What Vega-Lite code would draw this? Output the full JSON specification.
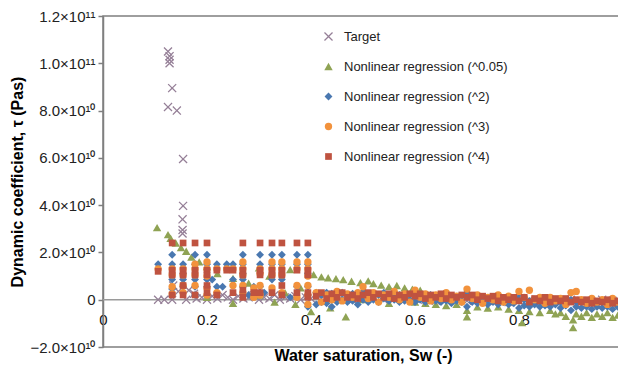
{
"$schema":"https://vega.github.io/schema/vega-lite/v6.json",
"width":520,"height":331,
"autosize":{"type":"none"},
"padding":{"left":103,"top":16,"right":0,"bottom":24},
"background":"white",
"config":{"view":{"stroke":"#7f7f7f","strokeWidth":1.5},"font":"Liberation Sans"},
"data":{"values":[
{"s":"T","x":0.106,"y":0},{"s":"T","x":0.118,"y":0},{"s":"T","x":0.133,"y":0},{"s":"T","x":0.16,"y":0},{"s":"T","x":0.18,"y":0.05},{"s":"T","x":0.19,"y":0.1},{"s":"T","x":0.2,"y":0},{"s":"T","x":0.21,"y":0.15},{"s":"T","x":0.22,"y":0.05},{"s":"T","x":0.23,"y":0.2},{"s":"T","x":0.24,"y":0.1},{"s":"T","x":0.25,"y":0},{"s":"T","x":0.26,"y":0.15},{"s":"T","x":0.27,"y":0.05},{"s":"T","x":0.28,"y":0.1},{"s":"T","x":0.29,"y":0.2},{"s":"T","x":0.3,"y":0},{"s":"T","x":0.31,"y":0.1},{"s":"T","x":0.32,"y":0.05},{"s":"T","x":0.33,"y":0.2},{"s":"T","x":0.34,"y":0},{"s":"T","x":0.35,"y":0.1},{"s":"T","x":0.36,"y":0.05},{"s":"T","x":0.37,"y":0.15},{"s":"T","x":0.38,"y":0},{"s":"T","x":0.39,"y":0.1},{"s":"T","x":0.4,"y":0.05},
{"s":"T","x":0.135,"y":0.6},{"s":"T","x":0.145,"y":0.35},{"s":"T","x":0.165,"y":0.4},{"s":"T","x":0.175,"y":0.25},
{"s":"T","x":0.125,"y":10.5},{"s":"T","x":0.128,"y":10.3},{"s":"T","x":0.128,"y":10.15},{"s":"T","x":0.128,"y":10.0},{"s":"T","x":0.133,"y":8.95},{"s":"T","x":0.125,"y":8.15},{"s":"T","x":0.142,"y":8.0},{"s":"T","x":0.154,"y":5.95},{"s":"T","x":0.154,"y":3.97},{"s":"T","x":0.153,"y":3.4},{"s":"T","x":0.153,"y":2.95},{"s":"T","x":0.153,"y":2.8},
{"s":"T","x":0.42,"y":0.05},{"s":"T","x":0.44,"y":0},{"s":"T","x":0.46,"y":0.1},{"s":"T","x":0.48,"y":0},{"s":"T","x":0.5,"y":0.05},{"s":"T","x":0.52,"y":0.1},{"s":"T","x":0.54,"y":0},{"s":"T","x":0.56,"y":0.05},{"s":"T","x":0.58,"y":0},{"s":"T","x":0.6,"y":0.05},{"s":"T","x":0.62,"y":0},{"s":"T","x":0.64,"y":-0.05},{"s":"T","x":0.66,"y":0},{"s":"T","x":0.68,"y":0.05},{"s":"T","x":0.7,"y":-0.05},{"s":"T","x":0.72,"y":0},{"s":"T","x":0.74,"y":-0.05},{"s":"T","x":0.76,"y":0},{"s":"T","x":0.78,"y":-0.1},{"s":"T","x":0.8,"y":-0.05},{"s":"T","x":0.82,"y":0},{"s":"T","x":0.84,"y":-0.1},{"s":"T","x":0.86,"y":-0.05},{"s":"T","x":0.88,"y":-0.1},{"s":"T","x":0.9,"y":0},{"s":"T","x":0.92,"y":-0.05},{"s":"T","x":0.94,"y":-0.1},{"s":"T","x":0.96,"y":0},{"s":"T","x":0.98,"y":-0.05},
{"s":"A","x":0.104,"y":3.05},{"s":"A","x":0.125,"y":2.75},{"s":"A","x":0.13,"y":2.6},{"s":"A","x":0.14,"y":2.4},{"s":"A","x":0.15,"y":2.2},{"s":"A","x":0.16,"y":2.05},{"s":"A","x":0.17,"y":1.8},{"s":"A","x":0.185,"y":1.6},{"s":"A","x":0.2,"y":1.4},{"s":"A","x":0.22,"y":1.1},{"s":"A","x":0.25,"y":0.9},{"s":"A","x":0.28,"y":0.7},{"s":"A","x":0.3,"y":1.35},{"s":"A","x":0.32,"y":1.0},{"s":"A","x":0.36,"y":1.27},{"s":"A","x":0.405,"y":1.06},{"s":"A","x":0.2,"y":0.1},{"s":"A","x":0.25,"y":-0.15},{"s":"A","x":0.3,"y":0.2},{"s":"A","x":0.33,"y":-0.1},{"s":"A","x":0.38,"y":0.5},{"s":"A","x":0.37,"y":-0.2},{"s":"A","x":0.4,"y":-0.5},{"s":"A","x":0.35,"y":0.3},
{"s":"A","x":0.42,"y":0.97},{"s":"A","x":0.433,"y":0.93},{"s":"A","x":0.448,"y":0.89},{"s":"A","x":0.462,"y":0.85},{"s":"A","x":0.478,"y":0.78},{"s":"A","x":0.495,"y":0.72},{"s":"A","x":0.51,"y":0.8},{"s":"A","x":0.52,"y":0.68},{"s":"A","x":0.535,"y":0.62},{"s":"A","x":0.55,"y":0.55},{"s":"A","x":0.565,"y":0.6},{"s":"A","x":0.58,"y":0.5},{"s":"A","x":0.595,"y":0.45},{"s":"A","x":0.61,"y":0.4},
{"s":"A","x":0.437,"y":-0.34},{"s":"A","x":0.467,"y":-0.72},{"s":"A","x":0.5,"y":0.0},{"s":"A","x":0.55,"y":-0.15},{"s":"A","x":0.6,"y":-0.1},
{"s":"A","x":0.62,"y":-0.15},{"s":"A","x":0.64,"y":-0.2},{"s":"A","x":0.66,"y":-0.25},{"s":"A","x":0.68,"y":-0.2},{"s":"A","x":0.7,"y":-0.72},{"s":"A","x":0.7,"y":-0.45},{"s":"A","x":0.72,"y":-0.3},{"s":"A","x":0.74,"y":-0.35},{"s":"A","x":0.76,"y":-0.3},{"s":"A","x":0.78,"y":-0.4},{"s":"A","x":0.8,"y":-0.45},{"s":"A","x":0.806,"y":-0.97},{"s":"A","x":0.82,"y":-0.5},{"s":"A","x":0.84,"y":-0.55},{"s":"A","x":0.86,"y":-0.45},{"s":"A","x":0.87,"y":-0.6},{"s":"A","x":0.88,"y":-0.55},{"s":"A","x":0.89,"y":-0.7},{"s":"A","x":0.904,"y":-1.18},{"s":"A","x":0.904,"y":-0.85},{"s":"A","x":0.91,"y":-0.6},{"s":"A","x":0.92,"y":-0.7},{"s":"A","x":0.93,"y":-0.55},{"s":"A","x":0.94,"y":-0.75},{"s":"A","x":0.95,"y":-0.6},{"s":"A","x":0.96,"y":-0.7},{"s":"A","x":0.97,"y":-0.55},{"s":"A","x":0.98,"y":-0.75},{"s":"A","x":0.99,"y":-0.65},
{"s":"B","x":0.106,"y":1.5},
{"s":"B","x":0.133,"y":1.9},{"s":"B","x":0.133,"y":1.5},{"s":"B","x":0.133,"y":0.85},{"s":"B","x":0.133,"y":0.45},
{"s":"B","x":0.154,"y":1.5},{"s":"B","x":0.154,"y":1.1},{"s":"B","x":0.154,"y":0.85},{"s":"B","x":0.154,"y":0.55},
{"s":"B","x":0.177,"y":1.9},{"s":"B","x":0.177,"y":1.5},{"s":"B","x":0.177,"y":0.85},{"s":"B","x":0.177,"y":0.55},{"s":"B","x":0.177,"y":0.2},
{"s":"B","x":0.2,"y":1.9},{"s":"B","x":0.2,"y":1.5},{"s":"B","x":0.2,"y":0.85},{"s":"B","x":0.2,"y":0.55},
{"s":"B","x":0.219,"y":1.5},{"s":"B","x":0.219,"y":0.55},{"s":"B","x":0.238,"y":1.5},{"s":"B","x":0.25,"y":1.5},{"s":"B","x":0.25,"y":0.85},
{"s":"B","x":0.269,"y":1.9},{"s":"B","x":0.269,"y":1.5},{"s":"B","x":0.269,"y":1.1},{"s":"B","x":0.269,"y":0.85},{"s":"B","x":0.269,"y":0.55},
{"s":"B","x":0.29,"y":0.55},{"s":"B","x":0.29,"y":0.2},
{"s":"B","x":0.302,"y":1.9},{"s":"B","x":0.302,"y":1.5},{"s":"B","x":0.302,"y":0.55},
{"s":"B","x":0.325,"y":1.9},{"s":"B","x":0.325,"y":1.5},{"s":"B","x":0.325,"y":0.85},
{"s":"B","x":0.344,"y":1.9},{"s":"B","x":0.344,"y":1.5},{"s":"B","x":0.344,"y":0.85},{"s":"B","x":0.344,"y":0.2},
{"s":"B","x":0.373,"y":1.9},{"s":"B","x":0.373,"y":1.5},{"s":"B","x":0.373,"y":0.55},
{"s":"B","x":0.394,"y":1.9},{"s":"B","x":0.394,"y":1.5},{"s":"B","x":0.394,"y":1.1},{"s":"B","x":0.394,"y":0.55},{"s":"B","x":0.394,"y":0.2},{"s":"B","x":0.394,"y":-0.3},
{"s":"B","x":0.21,"y":0.85},{"s":"B","x":0.23,"y":0.55},{"s":"B","x":0.28,"y":0.2},{"s":"B","x":0.31,"y":0.3},{"s":"B","x":0.36,"y":0.1},
{"s":"B","x":0.41,"y":0.3},{"s":"B","x":0.41,"y":-0.2},{"s":"B","x":0.42,"y":0.2},{"s":"B","x":0.42,"y":-0.1},{"s":"B","x":0.43,"y":0.3},{"s":"B","x":0.43,"y":-0.15},{"s":"B","x":0.44,"y":0.25},{"s":"B","x":0.44,"y":-0.3},{"s":"B","x":0.45,"y":0.2},{"s":"B","x":0.45,"y":-0.1},{"s":"B","x":0.46,"y":0.3},{"s":"B","x":0.46,"y":0.0},{"s":"B","x":0.47,"y":0.2},{"s":"B","x":0.47,"y":-0.1},{"s":"B","x":0.48,"y":0.25},{"s":"B","x":0.48,"y":-0.05},{"s":"B","x":0.49,"y":0.2},{"s":"B","x":0.49,"y":-0.2},{"s":"B","x":0.5,"y":0.35},{"s":"B","x":0.5,"y":0.0},
{"s":"B","x":0.51,"y":0.2},{"s":"B","x":0.51,"y":-0.1},{"s":"B","x":0.52,"y":0.25},{"s":"B","x":0.52,"y":0.0},{"s":"B","x":0.53,"y":0.2},{"s":"B","x":0.53,"y":-0.1},{"s":"B","x":0.54,"y":0.3},{"s":"B","x":0.54,"y":0.05},{"s":"B","x":0.55,"y":0.2},{"s":"B","x":0.55,"y":-0.05},{"s":"B","x":0.56,"y":0.25},{"s":"B","x":0.56,"y":0.0},{"s":"B","x":0.57,"y":0.2},{"s":"B","x":0.57,"y":-0.1},{"s":"B","x":0.58,"y":0.15},{"s":"B","x":0.58,"y":-0.05},{"s":"B","x":0.59,"y":0.2},{"s":"B","x":0.59,"y":0.0},{"s":"B","x":0.6,"y":0.25},{"s":"B","x":0.6,"y":-0.1},
{"s":"B","x":0.61,"y":0.2},{"s":"B","x":0.61,"y":0.0},{"s":"B","x":0.62,"y":0.15},{"s":"B","x":0.62,"y":-0.1},{"s":"B","x":0.63,"y":0.2},{"s":"B","x":0.63,"y":0.0},{"s":"B","x":0.64,"y":0.15},{"s":"B","x":0.64,"y":-0.05},{"s":"B","x":0.65,"y":0.2},{"s":"B","x":0.65,"y":-0.1},{"s":"B","x":0.66,"y":0.1},{"s":"B","x":0.66,"y":-0.05},{"s":"B","x":0.67,"y":0.15},{"s":"B","x":0.67,"y":-0.15},{"s":"B","x":0.68,"y":0.1},{"s":"B","x":0.68,"y":-0.05},{"s":"B","x":0.69,"y":0.15},{"s":"B","x":0.69,"y":-0.1},{"s":"B","x":0.7,"y":0.3},{"s":"B","x":0.7,"y":-0.3},
{"s":"B","x":0.71,"y":0.1},{"s":"B","x":0.71,"y":-0.1},{"s":"B","x":0.72,"y":0.05},{"s":"B","x":0.72,"y":-0.15},{"s":"B","x":0.73,"y":0.1},{"s":"B","x":0.73,"y":-0.1},{"s":"B","x":0.74,"y":0.05},{"s":"B","x":0.74,"y":-0.2},{"s":"B","x":0.75,"y":0.1},{"s":"B","x":0.75,"y":-0.1},{"s":"B","x":0.76,"y":0.0},{"s":"B","x":0.76,"y":-0.2},{"s":"B","x":0.77,"y":0.05},{"s":"B","x":0.77,"y":-0.1},{"s":"B","x":0.78,"y":0.0},{"s":"B","x":0.78,"y":-0.2},{"s":"B","x":0.79,"y":0.05},{"s":"B","x":0.79,"y":-0.15},{"s":"B","x":0.8,"y":0.1},{"s":"B","x":0.8,"y":-0.35},
{"s":"B","x":0.81,"y":0.0},{"s":"B","x":0.81,"y":-0.25},{"s":"B","x":0.82,"y":-0.05},{"s":"B","x":0.82,"y":-0.3},{"s":"B","x":0.83,"y":0.0},{"s":"B","x":0.83,"y":-0.2},{"s":"B","x":0.84,"y":-0.05},{"s":"B","x":0.84,"y":-0.3},{"s":"B","x":0.85,"y":0.0},{"s":"B","x":0.85,"y":-0.25},{"s":"B","x":0.86,"y":-0.05},{"s":"B","x":0.86,"y":-0.3},{"s":"B","x":0.87,"y":0.0},{"s":"B","x":0.87,"y":-0.2},{"s":"B","x":0.88,"y":-0.1},{"s":"B","x":0.88,"y":-0.35},{"s":"B","x":0.89,"y":-0.05},{"s":"B","x":0.89,"y":-0.25},{"s":"B","x":0.9,"y":0.0},{"s":"B","x":0.9,"y":-0.45},
{"s":"B","x":0.91,"y":-0.1},{"s":"B","x":0.91,"y":-0.3},{"s":"B","x":0.92,"y":-0.05},{"s":"B","x":0.92,"y":-0.35},{"s":"B","x":0.93,"y":-0.1},{"s":"B","x":0.93,"y":-0.3},{"s":"B","x":0.94,"y":-0.05},{"s":"B","x":0.94,"y":-0.4},{"s":"B","x":0.95,"y":-0.1},{"s":"B","x":0.95,"y":-0.3},{"s":"B","x":0.96,"y":-0.05},{"s":"B","x":0.96,"y":-0.35},{"s":"B","x":0.97,"y":-0.1},{"s":"B","x":0.97,"y":-0.3},{"s":"B","x":0.98,"y":-0.05},{"s":"B","x":0.98,"y":-0.4},{"s":"B","x":0.99,"y":-0.1},{"s":"B","x":0.99,"y":-0.3},
{"s":"C","x":0.106,"y":1.3},
{"s":"C","x":0.133,"y":1.3},{"s":"C","x":0.133,"y":1.05},{"s":"C","x":0.133,"y":0.55},{"s":"C","x":0.133,"y":0.25},
{"s":"C","x":0.154,"y":1.3},{"s":"C","x":0.154,"y":1.05},{"s":"C","x":0.154,"y":0.6},{"s":"C","x":0.154,"y":0.3},
{"s":"C","x":0.177,"y":1.5},{"s":"C","x":0.177,"y":1.3},{"s":"C","x":0.177,"y":1.05},{"s":"C","x":0.177,"y":0.6},
{"s":"C","x":0.2,"y":1.6},{"s":"C","x":0.2,"y":1.3},{"s":"C","x":0.2,"y":1.0},{"s":"C","x":0.2,"y":0.5},{"s":"C","x":0.2,"y":0.2},
{"s":"C","x":0.219,"y":1.3},{"s":"C","x":0.219,"y":0.3},{"s":"C","x":0.238,"y":1.3},{"s":"C","x":0.25,"y":1.3},{"s":"C","x":0.25,"y":0.6},
{"s":"C","x":0.269,"y":1.6},{"s":"C","x":0.269,"y":1.3},{"s":"C","x":0.269,"y":1.05},{"s":"C","x":0.269,"y":0.6},{"s":"C","x":0.269,"y":0.3},
{"s":"C","x":0.29,"y":0.5},{"s":"C","x":0.29,"y":0.1},
{"s":"C","x":0.302,"y":1.3},{"s":"C","x":0.302,"y":1.1},{"s":"C","x":0.302,"y":0.6},{"s":"C","x":0.302,"y":0.2},
{"s":"C","x":0.325,"y":1.6},{"s":"C","x":0.325,"y":1.3},{"s":"C","x":0.325,"y":1.05},{"s":"C","x":0.325,"y":0.5},
{"s":"C","x":0.344,"y":1.6},{"s":"C","x":0.344,"y":1.3},{"s":"C","x":0.344,"y":1.05},{"s":"C","x":0.344,"y":0.3},
{"s":"C","x":0.373,"y":1.6},{"s":"C","x":0.373,"y":1.3},{"s":"C","x":0.373,"y":0.6},{"s":"C","x":0.373,"y":0.1},
{"s":"C","x":0.394,"y":1.6},{"s":"C","x":0.394,"y":1.3},{"s":"C","x":0.394,"y":1.0},{"s":"C","x":0.394,"y":0.6},{"s":"C","x":0.394,"y":0.2},{"s":"C","x":0.394,"y":-0.2},
{"s":"C","x":0.41,"y":0.3},{"s":"C","x":0.42,"y":-0.1},{"s":"C","x":0.43,"y":0.2},{"s":"C","x":0.44,"y":0.0},{"s":"C","x":0.45,"y":0.35},{"s":"C","x":0.46,"y":-0.05},{"s":"C","x":0.47,"y":0.25},{"s":"C","x":0.48,"y":0.1},{"s":"C","x":0.49,"y":0.3},{"s":"C","x":0.5,"y":0.55},{"s":"C","x":0.51,"y":0.05},{"s":"C","x":0.52,"y":0.3},{"s":"C","x":0.53,"y":-0.1},{"s":"C","x":0.54,"y":0.2},{"s":"C","x":0.55,"y":0.1},{"s":"C","x":0.56,"y":0.35},{"s":"C","x":0.57,"y":0.0},{"s":"C","x":0.58,"y":0.25},{"s":"C","x":0.59,"y":-0.1},{"s":"C","x":0.6,"y":0.4},
{"s":"C","x":0.61,"y":0.1},{"s":"C","x":0.62,"y":0.25},{"s":"C","x":0.63,"y":-0.05},{"s":"C","x":0.64,"y":0.2},{"s":"C","x":0.65,"y":0.05},{"s":"C","x":0.66,"y":0.3},{"s":"C","x":0.67,"y":0.0},{"s":"C","x":0.68,"y":0.15},{"s":"C","x":0.69,"y":-0.1},{"s":"C","x":0.7,"y":0.45},{"s":"C","x":0.71,"y":0.05},{"s":"C","x":0.72,"y":0.2},{"s":"C","x":0.73,"y":-0.15},{"s":"C","x":0.74,"y":0.1},{"s":"C","x":0.75,"y":0.0},{"s":"C","x":0.76,"y":0.2},{"s":"C","x":0.77,"y":-0.1},{"s":"C","x":0.78,"y":0.15},{"s":"C","x":0.79,"y":-0.05},{"s":"C","x":0.8,"y":0.35},
{"s":"C","x":0.81,"y":0.1},{"s":"C","x":0.82,"y":0.4},{"s":"C","x":0.83,"y":0.0},{"s":"C","x":0.84,"y":0.1},{"s":"C","x":0.85,"y":-0.15},{"s":"C","x":0.86,"y":0.1},{"s":"C","x":0.87,"y":-0.05},{"s":"C","x":0.88,"y":0.05},{"s":"C","x":0.89,"y":-0.2},{"s":"C","x":0.9,"y":0.3},{"s":"C","x":0.91,"y":0.35},{"s":"C","x":0.92,"y":0.0},{"s":"C","x":0.93,"y":-0.15},{"s":"C","x":0.94,"y":0.05},{"s":"C","x":0.95,"y":-0.1},{"s":"C","x":0.96,"y":0.0},{"s":"C","x":0.97,"y":-0.2},{"s":"C","x":0.98,"y":0.05},{"s":"C","x":0.99,"y":-0.1},
{"s":"D","x":0.106,"y":1.2},
{"s":"D","x":0.133,"y":2.4},{"s":"D","x":0.133,"y":1.25},{"s":"D","x":0.133,"y":1.05},{"s":"D","x":0.133,"y":0.2},
{"s":"D","x":0.154,"y":2.4},{"s":"D","x":0.154,"y":1.25},{"s":"D","x":0.154,"y":1.05},{"s":"D","x":0.154,"y":0.6},{"s":"D","x":0.154,"y":0.2},
{"s":"D","x":0.177,"y":2.4},{"s":"D","x":0.177,"y":1.25},{"s":"D","x":0.177,"y":1.05},{"s":"D","x":0.177,"y":0.2},
{"s":"D","x":0.2,"y":2.4},{"s":"D","x":0.2,"y":1.25},{"s":"D","x":0.2,"y":1.05},{"s":"D","x":0.2,"y":0.6},{"s":"D","x":0.2,"y":0.3},
{"s":"D","x":0.219,"y":1.25},{"s":"D","x":0.219,"y":0.2},{"s":"D","x":0.238,"y":1.25},{"s":"D","x":0.25,"y":1.25},{"s":"D","x":0.25,"y":0.3},
{"s":"D","x":0.269,"y":2.4},{"s":"D","x":0.269,"y":1.25},{"s":"D","x":0.269,"y":1.05},{"s":"D","x":0.269,"y":0.4},{"s":"D","x":0.269,"y":0.1},
{"s":"D","x":0.29,"y":0.3},
{"s":"D","x":0.302,"y":2.4},{"s":"D","x":0.302,"y":1.25},{"s":"D","x":0.302,"y":1.05},{"s":"D","x":0.302,"y":0.3},
{"s":"D","x":0.325,"y":2.4},{"s":"D","x":0.325,"y":1.25},{"s":"D","x":0.325,"y":1.05},{"s":"D","x":0.325,"y":0.3},
{"s":"D","x":0.344,"y":2.4},{"s":"D","x":0.344,"y":1.25},{"s":"D","x":0.344,"y":1.05},{"s":"D","x":0.344,"y":0.6},{"s":"D","x":0.344,"y":0.2},
{"s":"D","x":0.373,"y":2.4},{"s":"D","x":0.373,"y":1.25},{"s":"D","x":0.373,"y":0.3},
{"s":"D","x":0.394,"y":2.4},{"s":"D","x":0.394,"y":1.25},{"s":"D","x":0.394,"y":1.05},{"s":"D","x":0.394,"y":0.3},{"s":"D","x":0.394,"y":0.1},
{"s":"D","x":0.41,"y":0.15},{"s":"D","x":0.42,"y":0.3},{"s":"D","x":0.43,"y":0.05},{"s":"D","x":0.44,"y":0.25},{"s":"D","x":0.45,"y":0.1},{"s":"D","x":0.46,"y":0.3},{"s":"D","x":0.47,"y":0.1},{"s":"D","x":0.48,"y":0.2},{"s":"D","x":0.49,"y":0.05},{"s":"D","x":0.5,"y":0.2},{"s":"D","x":0.51,"y":0.3},{"s":"D","x":0.52,"y":0.1},{"s":"D","x":0.53,"y":0.25},{"s":"D","x":0.54,"y":0.1},{"s":"D","x":0.55,"y":0.25},{"s":"D","x":0.56,"y":0.05},{"s":"D","x":0.57,"y":0.2},{"s":"D","x":0.58,"y":0.1},{"s":"D","x":0.59,"y":0.25},{"s":"D","x":0.6,"y":0.15},
{"s":"D","x":0.61,"y":0.25},{"s":"D","x":0.62,"y":0.05},{"s":"D","x":0.63,"y":0.2},{"s":"D","x":0.64,"y":0.1},{"s":"D","x":0.65,"y":0.25},{"s":"D","x":0.66,"y":0.05},{"s":"D","x":0.67,"y":0.2},{"s":"D","x":0.68,"y":0.1},{"s":"D","x":0.69,"y":0.2},{"s":"D","x":0.7,"y":0.1},{"s":"D","x":0.71,"y":0.2},{"s":"D","x":0.72,"y":0.0},{"s":"D","x":0.73,"y":0.15},{"s":"D","x":0.74,"y":0.05},{"s":"D","x":0.75,"y":0.15},{"s":"D","x":0.76,"y":-0.05},{"s":"D","x":0.77,"y":0.1},{"s":"D","x":0.78,"y":0.0},{"s":"D","x":0.79,"y":0.1},{"s":"D","x":0.8,"y":-0.05},
{"s":"D","x":0.81,"y":0.1},{"s":"D","x":0.82,"y":-0.1},{"s":"D","x":0.83,"y":0.05},{"s":"D","x":0.84,"y":-0.05},{"s":"D","x":0.85,"y":0.1},{"s":"D","x":0.86,"y":-0.1},{"s":"D","x":0.87,"y":0.05},{"s":"D","x":0.88,"y":-0.05},{"s":"D","x":0.89,"y":0.05},{"s":"D","x":0.9,"y":-0.1},{"s":"D","x":0.91,"y":0.0},{"s":"D","x":0.92,"y":-0.1},{"s":"D","x":0.93,"y":0.0},{"s":"D","x":0.94,"y":-0.15},{"s":"D","x":0.95,"y":-0.05},{"s":"D","x":0.96,"y":-0.1},{"s":"D","x":0.97,"y":0.0},{"s":"D","x":0.98,"y":-0.15},{"s":"D","x":0.99,"y":-0.05}
]},
"layer":[
{"data":{"values":[{}]},"mark":{"type":"rule","color":"#9a9a9a","strokeWidth":1.5},"encoding":{"y":{"datum":0,"type":"quantitative"}}},
{"mark":{"type":"point","filled":true,"opacity":1,"strokeWidth":0},
"encoding":{
"x":{"field":"x","type":"quantitative","scale":{"domain":[0,1],"nice":false,"zero":false},
 "axis":{"orient":"bottom","offset":-47,"values":[0,0.2,0.4,0.6,0.8],"labelExpr":"datum.value==0?'0':format(datum.value,'.1f')","domain":false,"ticks":false,"grid":false,"labelFontSize":15,"labelColor":"#111","labelPadding":12,"labelFlush":false,"title":"Water saturation, Sw (-)","titleFontSize":16,"titleFontWeight":"bold","titleColor":"#000","titlePadding":20}},
"y":{"field":"y","type":"quantitative","scale":{"domain":[-2,12],"nice":false,"zero":false},
 "axis":{"values":[-2,0,2,4,6,8,10,12],"labelExpr":"datum.value==0?'0':datum.value>=10?format(datum.value/10,'.1f')+'×10¹¹':format(datum.value,'.1f')+'×10¹⁰'","domainColor":"#7f7f7f","domainWidth":1.5,"tickColor":"#7f7f7f","tickSize":5,"tickWidth":1.5,"grid":false,"labelFontSize":15,"labelColor":"#222","labelPadding":3,"title":"Dynamic coefficient, τ (Pas)","titleFontSize":16,"titleFontWeight":"bold","titleColor":"#000","titlePadding":4}},
"color":{"field":"s","type":"nominal","scale":{"domain":["T","A","B","C","D"],"range":["#957f97","#8fa354","#4a78b0","#f2923c","#bf5340"]},
 "legend":{"orient":"none","legendX":219,"legendY":14,"title":null,"labelFontSize":13,"labelColor":"#222","labelLimit":400,"symbolSize":45,"rowPadding":16,"padding":0,"labelOffset":9,
 "labelExpr":"datum.label=='T'?'Target':datum.label=='A'?'Nonlinear regression (^0.05)':datum.label=='B'?'Nonlinear regression (^2)':datum.label=='C'?'Nonlinear regression (^3)':'Nonlinear regression (^4)'"}},
"shape":{"field":"s","type":"nominal","scale":{"domain":["T","A","B","C","D"],"range":["M-1,-0.8L-0.8,-1L0,-0.2L0.8,-1L1,-0.8L0.2,0L1,0.8L0.8,1L0,0.2L-0.8,1L-1,0.8L-0.2,0Z","triangle-up","diamond","circle","square"]}},
"size":{"field":"s","type":"nominal","scale":{"domain":["T","A","B","C","D"],"range":[80,45,85,55,50]},"legend":null}
}}
]
}
